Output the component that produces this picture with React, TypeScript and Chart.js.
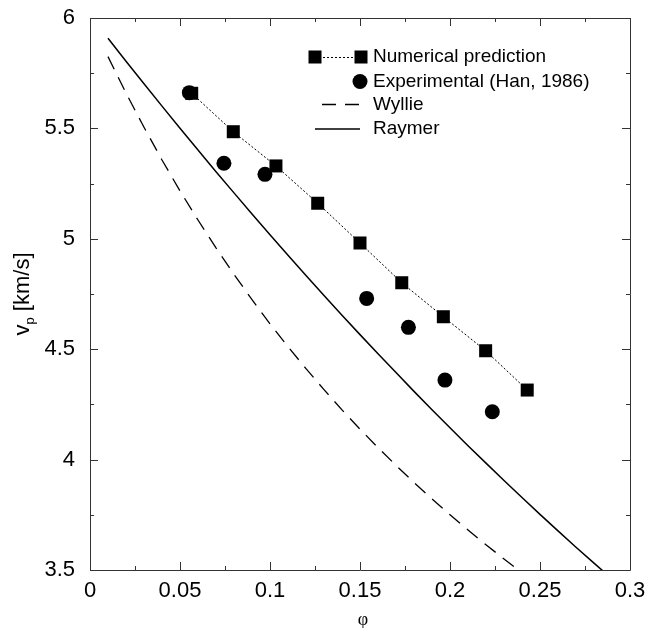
import React, { useEffect, useRef } from 'react';
import { Chart, registerables } from 'chart.js';

Chart.register(...registerables);

// Numerical prediction (squares, dotted line)
const numPhi = [0.0565, 0.0796, 0.1033, 0.1265, 0.15, 0.1732, 0.1963, 0.2198, 0.2429];
const numVp = [5.659, 5.485, 5.33, 5.161, 4.981, 4.801, 4.647, 4.493, 4.315];

// Experimental (Han, 1986) (circles)
const expPhi = [0.0552, 0.0744, 0.0972, 0.1537, 0.1769, 0.1972, 0.2235];
const expVp = [5.662, 5.342, 5.292, 4.73, 4.599, 4.36, 4.217];

// Wyllie curve (dashed)
const wylliePhi = [0.01, 0.02, 0.03, 0.04, 0.05, 0.06, 0.07, 0.08, 0.09, 0.1, 0.11, 0.12, 0.13, 0.14, 0.15, 0.16, 0.17, 0.18, 0.19, 0.2, 0.21, 0.22, 0.23, 0.24];
const wyllieVp = [5.825, 5.66, 5.505, 5.357, 5.217, 5.085, 4.959, 4.839, 4.724, 4.615, 4.511, 4.412, 4.317, 4.225, 4.138, 4.054, 3.974, 3.896, 3.822, 3.75, 3.681, 3.614, 3.55, 3.488];

// Raymer curve (solid)
const raymerPhi = [0.01, 0.02, 0.03, 0.04, 0.05, 0.06, 0.07, 0.08, 0.09, 0.1, 0.11, 0.12, 0.13, 0.14, 0.15, 0.16, 0.17, 0.18, 0.19, 0.2, 0.21, 0.22, 0.23, 0.24, 0.25, 0.26, 0.27, 0.28, 0.29];
const raymerVp = [5.908, 5.804, 5.702, 5.601, 5.501, 5.402, 5.304, 5.208, 5.112, 5.018, 4.925, 4.834, 4.743, 4.654, 4.566, 4.479, 4.394, 4.309, 4.226, 4.144, 4.063, 3.984, 3.905, 3.828, 3.752, 3.677, 3.603, 3.531, 3.46];

// Axis ticks
const xMajorTicks = [0, 0.05, 0.1, 0.15, 0.2, 0.25, 0.3];
const xMinorTicks = [0.025, 0.075, 0.125, 0.175, 0.225, 0.275];
const yMajorTicks = [3.5, 4, 4.5, 5, 5.5, 6];
const yMinorTicks = [3.75, 4.25, 4.75, 5.25, 5.75];
const xTickLabels = ['0', '0.05', '0.1', '0.15', '0.2', '0.25', '0.3'];
const yTickLabels = ['3.5', '4', '4.5', '5', '5.5', '6'];

const legendLabels = ['Numerical prediction', 'Experimental (Han, 1986)', 'Wyllie', 'Raymer'];
const xTitle = 'φ';
const yTitleMain = 'v';
const yTitleSub = 'p';
const yTitleRest = ' [km/s]';

const FONT = '"Liberation Sans", Arial, Helvetica, sans-serif';
const SERIF = '"Liberation Serif", "Times New Roman", serif';

const zip = (xs: number[], ys: number[]) => xs.map((x, i) => ({ x, y: ys[i] }));

const decorPlugin = {
  id: 'decor',
  afterDatasetsDraw(chart: any) {
    const { ctx, chartArea, scales } = chart;
    const xs = scales.x;
    const ys = scales.y;
    const { left, right, top, bottom } = chartArea;
    ctx.save();
    // frame
    ctx.strokeStyle = '#333';
    ctx.lineWidth = 1;
    ctx.setLineDash([]);
    ctx.beginPath();
    ctx.rect(Math.round(left) + 0.5, Math.round(top) + 0.5, Math.round(right - left), Math.round(bottom - top));
    ctx.stroke();
    // ticks
    const tick = (v: number, len: number, axis: 'x' | 'y') => {
      ctx.beginPath();
      if (axis === 'x') {
        const p = Math.round(xs.getPixelForValue(v)) + 0.5;
        ctx.moveTo(p, bottom);
        ctx.lineTo(p, bottom - len);
        ctx.moveTo(p, top);
        ctx.lineTo(p, top + len);
      } else {
        const p = Math.round(ys.getPixelForValue(v)) + 0.5;
        ctx.moveTo(left, p);
        ctx.lineTo(left + len, p);
        ctx.moveTo(right, p);
        ctx.lineTo(right - len, p);
      }
      ctx.stroke();
    };
    xMajorTicks.forEach((v) => tick(v, 8, 'x'));
    xMinorTicks.forEach((v) => tick(v, 4, 'x'));
    yMajorTicks.forEach((v) => tick(v, 8, 'y'));
    yMinorTicks.forEach((v) => tick(v, 4, 'y'));

    // legend
    ctx.fillStyle = '#000';
    ctx.strokeStyle = '#000';
    ctx.font = `19px ${FONT}`;
    ctx.textBaseline = 'middle';
    ctx.textAlign = 'left';
    const textX = 373;
    const rows = [57, 81.5, 104.5, 129];
    // row 1: square - dotted - square
    ctx.lineWidth = 1;
    ctx.setLineDash([2, 2]);
    ctx.beginPath();
    ctx.moveTo(315, rows[0] + 0.5);
    ctx.lineTo(361, rows[0] + 0.5);
    ctx.stroke();
    ctx.setLineDash([]);
    ctx.fillRect(315 - 6.5, rows[0] - 6.5, 13, 13);
    ctx.fillRect(361 - 6.5, rows[0] - 6.5, 13, 13);
    ctx.fillText(legendLabels[0], textX, rows[0]);
    // row 2: circle
    ctx.beginPath();
    ctx.arc(360, rows[1], 7.5, 0, Math.PI * 2);
    ctx.fill();
    ctx.fillText(legendLabels[1], textX, rows[1]);
    // row 3: dashed
    ctx.lineWidth = 1.3;
    ctx.setLineDash([14, 9]);
    ctx.beginPath();
    ctx.moveTo(322, rows[2]);
    ctx.lineTo(360, rows[2]);
    ctx.stroke();
    ctx.setLineDash([]);
    ctx.fillText(legendLabels[2], textX, rows[2]);
    // row 4: solid
    ctx.lineWidth = 1.5;
    ctx.beginPath();
    ctx.moveTo(315, rows[3]);
    ctx.lineTo(360, rows[3]);
    ctx.stroke();
    ctx.fillText(legendLabels[3], textX, rows[3]);

    // x title
    ctx.font = `18px ${SERIF}`;
    ctx.textAlign = 'center';
    ctx.textBaseline = 'middle';
    ctx.fillText(xTitle, (left + right) / 2 + 3, 620);

    // y title (rotated, with subscript)
    const yc = (top + bottom) / 2;
    ctx.translate(29, yc);
    ctx.rotate(-Math.PI / 2);
    ctx.textAlign = 'left';
    ctx.textBaseline = 'alphabetic';
    const mainFont = `22px ${FONT}`;
    const subFont = `13px ${FONT}`;
    ctx.font = mainFont;
    const w1 = ctx.measureText(yTitleMain).width;
    const w3 = ctx.measureText(yTitleRest).width;
    ctx.font = subFont;
    const w2 = ctx.measureText(yTitleSub).width;
    const total = w1 + w2 + w3;
    let u = -total / 2;
    ctx.font = mainFont;
    ctx.fillText(yTitleMain, u, 0);
    u += w1;
    ctx.font = subFont;
    ctx.fillText(yTitleSub, u, 5);
    u += w2;
    ctx.font = mainFont;
    ctx.fillText(yTitleRest, u, 0);
    ctx.restore();
  },
};

export default function App() {
  const ref = useRef<HTMLCanvasElement | null>(null);

  useEffect(() => {
    const canvas = ref.current;
    if (!canvas) return;
    const chart = new Chart(canvas, {
      type: 'scatter',
      data: {
        datasets: [
          {
            label: 'Wyllie',
            data: zip(wylliePhi, wyllieVp),
            showLine: true,
            borderColor: '#000',
            borderWidth: 1.3,
            borderDash: [14, 9],
            pointRadius: 0,
            fill: false,
          },
          {
            label: 'Raymer',
            data: zip(raymerPhi, raymerVp),
            showLine: true,
            borderColor: '#000',
            borderWidth: 1.5,
            pointRadius: 0,
            fill: false,
          },
          {
            label: 'Numerical prediction',
            data: zip(numPhi, numVp),
            showLine: true,
            borderColor: '#000',
            borderWidth: 1,
            borderDash: [2, 2],
            pointStyle: 'rect',
            pointRadius: 9.2,
            pointBorderWidth: 0,
            pointBackgroundColor: '#000',
            fill: false,
          },
          {
            label: 'Experimental (Han, 1986)',
            data: zip(expPhi, expVp),
            showLine: false,
            pointStyle: 'circle',
            pointRadius: 7.5,
            pointBorderWidth: 0,
            pointBackgroundColor: '#000',
          },
        ],
      },
      options: {
        responsive: false,
        animation: false,
        layout: { padding: { left: 0, right: 16, top: 18, bottom: 0 } },
        plugins: {
          legend: { display: false },
          tooltip: { enabled: false },
        },
        scales: {
          x: {
            type: 'linear',
            min: 0,
            max: 0.3,
            grid: { display: false, drawTicks: false },
            border: { display: false },
            afterBuildTicks: (s: any) => {
              s.ticks = xMajorTicks.map((v) => ({ value: v }));
            },
            afterFit: (s: any) => {
              s.height = 58;
              s.paddingLeft = 0;
              s.paddingRight = 0;
            },
            ticks: {
              padding: 8,
              color: '#000',
              font: { family: FONT, size: 22 },
              maxRotation: 0,
              callback: (_v: any, i: number) => xTickLabels[i],
            },
          },
          y: {
            type: 'linear',
            min: 3.5,
            max: 6,
            grid: { display: false, drawTicks: false },
            border: { display: false },
            afterBuildTicks: (s: any) => {
              s.ticks = yMajorTicks.map((v) => ({ value: v }));
            },
            afterFit: (s: any) => {
              s.width = 90;
              s.paddingTop = 0;
              s.paddingBottom = 0;
            },
            ticks: {
              padding: 15,
              color: '#000',
              font: { family: FONT, size: 22 },
              callback: (_v: any, i: number) => yTickLabels[i],
            },
          },
        },
      },
      plugins: [decorPlugin],
    } as any);
    return () => chart.destroy();
  }, []);

  return (
    <div style={{ position: 'fixed', left: 0, top: 0, width: 646, height: 628, background: '#fff' }}>
      <canvas ref={ref} width={646} height={628} style={{ width: 646, height: 628 }} />
    </div>
  );
}
